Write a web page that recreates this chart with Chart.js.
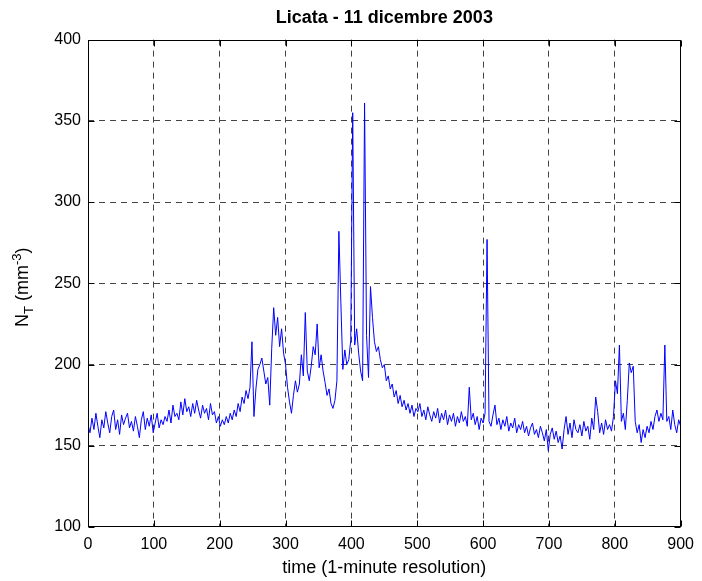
<!DOCTYPE html>
<html>
<head>
<meta charset="utf-8">
<title>Licata - 11 dicembre 2003</title>
<script src="https://cdn.jsdelivr.net/npm/chart.js@4/dist/chart.umd.min.js"></script>
<style>
    body { margin: 0; background: #fff; }
    #ntChart { display: block; }
</style>
</head>
<body>
<canvas id="ntChart" width="702" height="581"></canvas>
<script>
// --- DATA (one sample every 3 minutes) ---
const sampleStep = 3;
const ntValues = [
    163, 158, 167, 160, 170, 162, 155, 166, 161, 171,
    164, 158, 168, 172, 160, 166, 157, 169, 163, 167,
    170, 161, 165, 159, 168, 162, 155, 166, 171, 160,
    167, 162, 169, 158, 164, 170, 161, 166, 163, 168,
    165, 172, 164, 175, 168, 170, 166, 177, 169, 179,
    171, 174, 168, 176, 170, 178, 172, 167, 175, 170,
    173, 166, 176, 169, 171, 164, 168, 162, 166, 163,
    168, 164, 170, 166, 172, 168, 176, 171, 180, 176,
    184, 179, 186, 214, 168, 185, 197, 200, 204, 196,
    188, 192, 175, 210, 235, 218, 229, 211, 222, 207,
    200, 186, 177, 170, 181, 190, 183, 188, 206, 193,
    232, 196, 190, 199, 211, 206, 225, 198, 206, 196,
    189, 181, 185, 176, 173, 178, 190, 282, 238, 197,
    209, 200, 203, 215, 355, 212, 222, 207, 196, 190,
    361, 218, 192, 248, 229, 214, 208, 211, 203, 198,
    200, 190, 193, 185, 188, 180, 184, 176, 181, 174,
    178, 172, 176, 170, 175, 168, 173, 171, 176, 168,
    172, 166, 174, 169, 165, 171, 167, 173, 164, 170,
    166, 172, 163, 169, 165, 170, 162, 168, 164, 171,
    165, 168, 162, 186, 166, 170, 163, 168, 160, 167,
    164, 170, 277, 165, 162, 169, 175, 163, 167, 160,
    166, 162, 168, 159, 164, 161, 167, 158, 163, 160,
    165, 158, 162, 156, 161, 164, 157, 160, 155, 162,
    158, 153, 160, 147, 157, 161, 154, 159, 152, 156,
    148, 160, 168, 157, 164, 155, 166, 160, 158, 163,
    156, 165, 159, 162, 154, 167, 160, 180, 171, 158,
    164, 157, 166, 160, 163, 159, 168, 190, 182, 212,
    165, 170, 160, 178, 201, 195, 199, 165, 158, 163,
    152, 160, 155, 162, 158, 165, 160, 168, 172, 165,
    170, 166, 212, 165, 168, 160, 172, 163, 158, 166,
    162
];
const minutes = ntValues.map((_, i) => i * sampleStep);
const xTicks = [0, 100, 200, 300, 400, 500, 600, 700, 800, 900];
const yTicks = [100, 150, 200, 250, 300, 350, 400];

const FONT = "'Liberation Sans', Arial, Helvetica, sans-serif";

// grid lines only inside the box, the frame plugin draws the edges
const gridColor = (ticks) => c =>
    (c.tick && (c.tick.value === ticks[0] || c.tick.value === ticks[ticks.length - 1])) ? 'rgba(0,0,0,0)' : '#444';

// --- MATLAB STYLE FRAME: box + inward tick marks ---
const matlabFrame = {
    id: 'matlabFrame',
    afterDraw(chart) {
        const { ctx, scales } = chart;
        const tl = 6;
        const L = Math.round(scales.x.getPixelForValue(0)) + 0.5;
        const R = Math.round(scales.x.getPixelForValue(900)) - 0.5;
        const T = Math.round(scales.y.getPixelForValue(400)) + 0.5;
        const B = Math.round(scales.y.getPixelForValue(100)) - 0.5;
        ctx.save();
        ctx.strokeStyle = '#000';
        ctx.lineWidth = 1;
        ctx.setLineDash([]);
        ctx.beginPath();
        xTicks.forEach(v => {
            const x = Math.round(scales.x.getPixelForValue(v)) + 0.5;
            ctx.moveTo(x, B); ctx.lineTo(x, B - tl);
            ctx.moveTo(x, T); ctx.lineTo(x, T + tl);
        });
        yTicks.forEach(v => {
            const y = Math.round(scales.y.getPixelForValue(v)) + 0.5;
            ctx.moveTo(L, y); ctx.lineTo(L + tl, y);
            ctx.moveTo(R, y); ctx.lineTo(R - tl, y);
        });
        ctx.stroke();
        ctx.strokeRect(L, T, R - L, B - T);
        ctx.restore();
    }
};

// --- Y AXIS LABEL with subscript / superscript ---
const yAxisLabel = {
    id: 'yAxisLabel',
    afterDraw(chart) {
        const { ctx, chartArea: a } = chart;
        const parts = [
            { t: 'N', size: 18, dy: 0 },
            { t: 'T', size: 13, dy: 5 },
            { t: ' (mm', size: 18, dy: 0 },
            { t: '-3', size: 13, dy: -7 },
            { t: ')', size: 18, dy: 0 }
        ];
        ctx.save();
        let total = 0;
        parts.forEach(p => {
            ctx.font = `${p.size}px ${FONT}`;
            p.w = ctx.measureText(p.t).width;
            total += p.w;
        });
        ctx.translate(28, (a.top + a.bottom) / 2 + 4);
        ctx.rotate(-Math.PI / 2);
        ctx.fillStyle = '#000';
        ctx.textBaseline = 'alphabetic';
        let x = -total / 2;
        parts.forEach(p => {
            ctx.font = `${p.size}px ${FONT}`;
            ctx.fillText(p.t, x, p.dy);
            x += p.w;
        });
        ctx.restore();
    }
};

// --- CHART ---
document.addEventListener("DOMContentLoaded", () => {
    const ctx = document.getElementById('ntChart').getContext('2d');
    new Chart(ctx, {
        type: 'line',
        data: {
            datasets: [{
                data: minutes.map((m, i) => ({ x: m, y: ntValues[i] })),
                borderColor: '#0000ff',
                borderWidth: 1,
                pointRadius: 0,
                tension: 0,
                fill: false
            }]
        },
        options: {
            responsive: false,
            animation: false,
            devicePixelRatio: 1,
            layout: { padding: { left: 0, right: 14, top: 0, bottom: 0 } },
            plugins: {
                legend: { display: false },
                tooltip: { enabled: false },
                title: {
                    display: true,
                    fullSize: false,
                    text: 'Licata - 11 dicembre 2003',
                    color: '#000',
                    font: { family: FONT, size: 18, weight: 'bold' },
                    padding: { top: 7, bottom: 11 }
                }
            },
            scales: {
                x: {
                    type: 'linear',
                    min: 0,
                    max: 900,
                    afterBuildTicks: s => { s.ticks = xTicks.map(v => ({ value: v })); },
                    afterFit: s => { s.height = 54; },
                    ticks: { color: '#000', font: { family: FONT, size: 16 }, padding: 8, maxRotation: 0 },
                    grid: { color: gridColor(xTicks), drawTicks: false, lineWidth: 1 },
                    border: { display: false, dash: [6, 5] },
                    title: {
                        display: true,
                        text: 'time (1-minute resolution)',
                        color: '#000',
                        font: { family: FONT, size: 18 },
                        padding: { top: 0, bottom: 2 }
                    }
                },
                y: {
                    min: 100,
                    max: 400,
                    afterBuildTicks: s => { s.ticks = yTicks.map(v => ({ value: v })); },
                    afterFit: s => { s.width = 88; },
                    ticks: { color: '#000', font: { family: FONT, size: 16 }, padding: 7 },
                    grid: { color: gridColor(yTicks), drawTicks: false, lineWidth: 1 },
                    border: { display: false, dash: [6, 5] }
                }
            }
        },
        plugins: [matlabFrame, yAxisLabel]
    });
});
</script>
</body>
</html>
